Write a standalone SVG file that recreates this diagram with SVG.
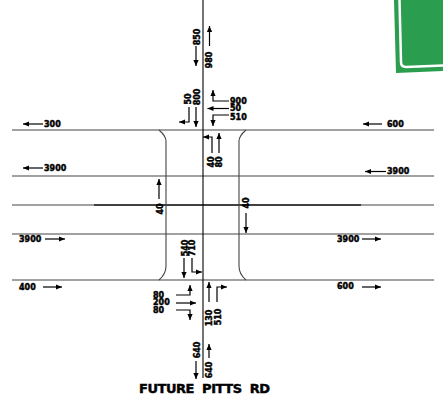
<svg xmlns="http://www.w3.org/2000/svg" width="443" height="403" viewBox="0 0 443 403">
<style>
.r{fill:none;stroke:#444;stroke-width:1.1}
.a{fill:none;stroke:#000;stroke-width:1.200;marker-end:url(#h)}
text{font-family:"DejaVu Sans","Liberation Sans",sans-serif;font-weight:700;font-size:8px;fill:#000;stroke:#000;stroke-width:.45;dominant-baseline:central}
.v{text-anchor:middle}
</style>
<defs><marker id="h" markerUnits="userSpaceOnUse" markerWidth="8" markerHeight="7" refX="6" refY="3.500" orient="auto"><path d="M0 .9L6 3.500L0 6.100z" fill="#000"/></marker></defs>
<rect width="443" height="403" fill="#fff"/>
<g id="sign">
<path d="M394 0L396 73L443 71V0z" fill="#2a9d4f"/>
<path d="M399.500 0L401 62Q401 67 406 67L443 65.500" fill="none" stroke="#fff" stroke-width="2.500"/>
</g>
<g id="roads">
<path class="r" d="M12 130H434M12 176H434M12 205H434M12 234H434M12 280H434"/>
<path d="M94 205H361" fill="none" stroke="#222" stroke-width="1.300"/>
<path d="M203 0V378" fill="none" stroke="#000" stroke-width="1.100"/>
<path class="r" d="M159 130Q166 136 166 141V266Q166 274 159 280M246 130Q239 136 239 141V266Q239 274 246 280"/>
</g>
<g id="connectors">
<path class="a" d="M196 46V66"/><path class="a" d="M209.500 46V26"/>
<path class="a" d="M196 107V127"/><path class="a" d="M189 107V122H179"/>
<path class="a" d="M229 101H213V90"/><path class="a" d="M229 108.500H207.500"/><path class="a" d="M229 115H213V126"/>
<path class="a" d="M212 153V137H203"/><path class="a" d="M219 153V133"/>
<path class="a" d="M159 199V179"/><path class="a" d="M246 213V233"/>
<path class="a" d="M184 258V278"/><path class="a" d="M192 258V272H202"/>
<path class="a" d="M176 295H190V285"/><path class="a" d="M176 303H196"/><path class="a" d="M176 310H190V320"/>
<path class="a" d="M209 302V282"/><path class="a" d="M217 302V287H227"/>
<path class="a" d="M196 361V379"/><path class="a" d="M209 358V344"/>
<path class="a" d="M43 124H23"/><path class="a" d="M43 168H23"/><path class="a" d="M45 239H65"/><path class="a" d="M43 287H62"/>
<path class="a" d="M382 124H363"/><path class="a" d="M386 171.500H365"/><path class="a" d="M362 239H381"/><path class="a" d="M362 287H381"/>
</g>
<g id="labels">
<text class="v" transform="translate(197 37) rotate(-90)">850</text>
<text class="v" transform="translate(209.500 60) rotate(-90)">980</text>
<text class="v" transform="translate(188.500 99) rotate(-90)">50</text>
<text class="v" transform="translate(197 97) rotate(-90)">800</text>
<text x="230" y="101">900</text><text x="230" y="108.500">50</text><text x="230" y="117">510</text>
<text class="v" transform="translate(211 162) rotate(-90)">40</text>
<text class="v" transform="translate(219 162) rotate(-90)">80</text>
<text class="v" transform="translate(160 209) rotate(-90)">40</text>
<text class="v" transform="translate(246.500 203) rotate(-90)">40</text>
<text class="v" transform="translate(185 248) rotate(-90)">540</text>
<text class="v" transform="translate(192.500 248) rotate(-90)">710</text>
<text x="153" y="295">80</text><text x="153" y="302.500">200</text><text x="153" y="310">80</text>
<text class="v" transform="translate(209.500 318) rotate(-90)">130</text>
<text class="v" transform="translate(218 317) rotate(-90)">510</text>
<text class="v" transform="translate(197 350) rotate(-90)">640</text>
<text class="v" transform="translate(209.500 370) rotate(-90)">640</text>
<text x="44" y="124">300</text><text x="44" y="168">3900</text><text x="19" y="239">3900</text><text x="19" y="287">400</text>
<text x="387" y="124">600</text><text x="387" y="171.500">3900</text><text x="337" y="239">3900</text><text x="337" y="286.500">600</text>
<text x="139" y="388" style="font-size:13px" textLength="131" lengthAdjust="spacing" xml:space="preserve">FUTURE  PITTS  RD</text>
</g>
</svg>
